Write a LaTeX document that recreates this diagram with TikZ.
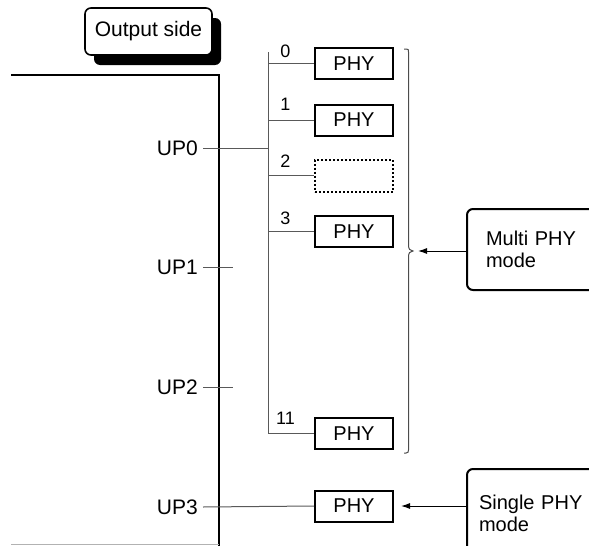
\documentclass[tikz,border=0pt]{standalone}
\usepackage{fontspec}
\setmainfont{Liberation Sans}
\usetikzlibrary{arrows.meta,shadows}
\begin{document}
\begin{tikzpicture}[x=1pt,y=-1pt,
  thinline/.style={draw=black!65, line width=1pt},
  chipline/.style={draw=black, line width=2.2pt},
  phybox/.style={draw, line width=2pt, minimum width=78pt, minimum height=31pt, inner sep=0pt, font=\fontsize{20}{21}\selectfont},
  emptybox/.style={draw, dotted, line width=2pt, minimum width=78pt, minimum height=32pt, inner sep=0pt},
  portlabel/.style={anchor=east, inner sep=0pt, font=\fontsize{21}{22}\selectfont},
  numlabel/.style={inner sep=0pt, font=\fontsize{18}{18}\selectfont},
  modebox/.style={draw, line width=2pt, rounded corners=6pt, anchor=north west, minimum width=150pt, text width=130pt, inner xsep=19pt, align=left, font=\fontsize{20}{22}\selectfont},
  arrowline/.style={draw=black, line width=1pt, -{Latex[length=9pt,width=6pt]}}
]
\useasboundingbox (0,0) rectangle (589,546);
\clip (0,0) rectangle (589,546);

% Output side label
\node[draw, line width=1.6pt, rounded corners=6pt, fill=white, minimum width=127pt, minimum height=47pt, inner sep=0pt,
      font=\fontsize{21}{22}\selectfont,
      drop shadow={shadow xshift=9pt, shadow yshift=-10pt, fill=black, opacity=1}] (outside) at (148.5,31.5) {Output side};

% chip outline
\coordinate (ctl) at (11,75);
\coordinate (ctr) at (219,75);
\coordinate (cbr) at (219,546);
\coordinate (cbl) at (11,544.5);
\draw[chipline] (ctl) -- (ctr) -- (cbr);
\draw[draw=black!30, line width=1pt] (cbl) -- (cbl -| ctr);

% port labels
\node[portlabel] (up0) at (198,148) {UP0};
\node[portlabel] (up1) at (198,267) {UP1};
\node[portlabel] (up2) at (198,387) {UP2};
\node[portlabel] (up3) at (198,507) {UP3};

% PHY boxes
\node[phybox] (p0) at (354,63.5) {PHY};
\node[phybox] (p1) at (354,120) {PHY};
\node[emptybox] (p2) at (354,175.5) {};
\node[phybox] (p3) at (354,231.5) {PHY};
\node[phybox] (p11) at (354,433.5) {PHY};
\node[phybox] (ps) at (354,506) {PHY};

% number labels
\node[numlabel] (n0) at (285.5,51) {0};
\node[numlabel] (n1) at (285.5,104) {1};
\node[numlabel] (n2) at (285.5,161) {2};
\node[numlabel] (n3) at (285.5,218) {3};
\node[numlabel] (n11) at (285.5,418) {11};

% bus
\coordinate (btop) at (268,52);
\draw[thinline] (btop) -- (btop |- p11.west) -- (p11.west);
\draw[thinline] (p0.west -| btop) -- (p0.west);
\draw[thinline] (p1.west -| btop) -- (p1.west);
\draw[thinline] (p2.west -| btop) -- (p2.west);
\draw[thinline] (p3.west -| btop) -- (p3.west);

% port ticks
\draw[thinline] ([xshift=5pt]up0.east) -- (up0.east -| btop);
\coordinate (tickend) at (233,0);
\draw[thinline] ([xshift=5pt]up1.east) -- (up1.east -| tickend);
\draw[thinline] ([xshift=5pt]up2.east) -- (up2.east -| tickend);
\draw[thinline] ([xshift=5pt]up3.east) -- (ps.west);

% brace
\draw[draw=black!70, line width=1pt] (404,49) -- (406.5,49) .. controls (408.5,49) and (408.5,50) .. (408.5,52)
  -- (408.5,245) .. controls (408.5,249) and (410,251) .. (413,251)
  .. controls (410,251) and (408.5,253) .. (408.5,257)
  -- (408.5,450) .. controls (408.5,452) and (408,453) .. (406,453) -- (404,453);
\coordinate (bracetip) at (418,251);

% mode boxes
\node[modebox, minimum height=81pt] (multi) at (466,208) {Multi PHY\\mode};
\node[modebox, minimum height=88pt, inner xsep=12pt, text width=106pt, minimum width=130pt] (single) at (466,468) {Single PHY\\mode};

% arrows
\draw[arrowline] (multi.west |- bracetip) -- (bracetip);
\draw[arrowline, shorten >=7pt] (single.west |- ps.east) -- (ps.east);
\end{tikzpicture}
\end{document}
